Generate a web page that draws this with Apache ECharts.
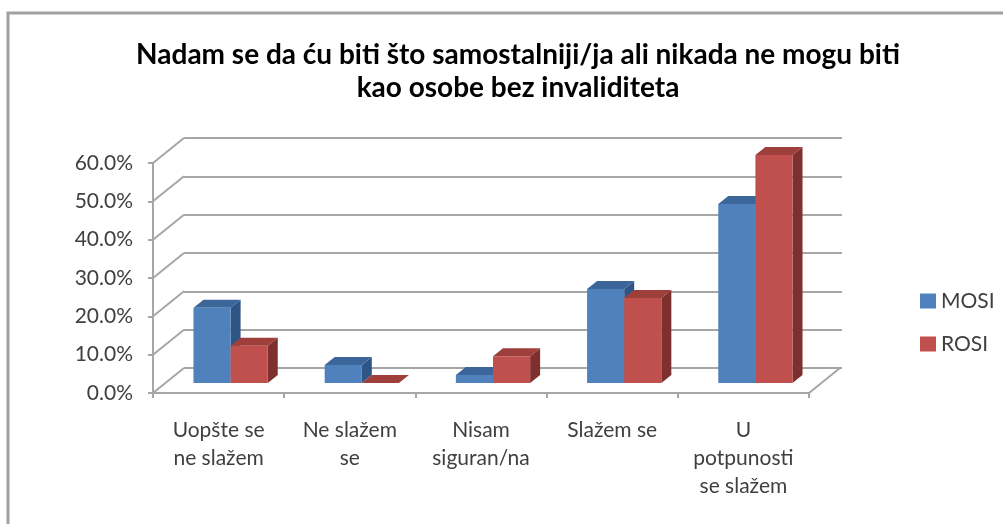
<!DOCTYPE html>
<html>
<head>
<meta charset="utf-8">
<script src="https://cdn.jsdelivr.net/npm/echarts@6/dist/echarts.min.js"></script>
<style>
  html, body { margin: 0; padding: 0; background: #fff; }
  #chart { width: 1003px; height: 524px; }
</style>
</head>
<body>
<div id="chart"></div>
<script>
// podaci
const categories = ['Uopšte se\nne slažem', 'Ne slažem\nse', 'Nisam\nsiguran/na', 'Slažem se', 'U\npotpunosti\nse slažem']
const mosi = [19.6, 4.7, 2.1, 24.5, 46.7]
const rosi = [9.7, 0, 7.0, 22.2, 59.5]
const yTicks = [0, 10, 20, 30, 40, 50, 60]

const FONT = 'Lato, "Liberation Sans", sans-serif'
const GRID_COLOR = '#a6a6a6'
// pomak zadnjeg zida i dubina stupaca
const WALL = [31, -25]
const PLANE = [12, -10]
const DEPTH = [10, -8]

const myCharts = echarts.init(document.getElementById('chart'))

function barItem(side, front, top, shade) {
  return function (params, api) {
    const idx = api.value(0)
    const base = api.coord([idx, 0])
    const peak = api.coord([idx, api.value(1)])
    const bw = api.size([1, 0])[0] * 0.283
    const x0 = (side === 0 ? base[0] - bw : base[0]) + PLANE[0]
    const yb = base[1] + PLANE[1]
    const yt = peak[1] + PLANE[1]
    const dx = DEPTH[0], dy = DEPTH[1]
    return {
      type: 'group',
      children: [
        { type: 'polygon', shape: { points: [[x0 + bw, yt], [x0 + bw + dx, yt + dy], [x0 + bw + dx, yb + dy], [x0 + bw, yb]] }, style: { fill: shade } },
        { type: 'polygon', shape: { points: [[x0, yt], [x0 + dx, yt + dy], [x0 + bw + dx, yt + dy], [x0 + bw, yt]] }, style: { fill: top } },
        { type: 'rect', shape: { x: x0, y: yt, width: bw, height: yb - yt }, style: { fill: front } }
      ]
    }
  }
}

myCharts.setOption({
  backgroundColor: '#fff',
  animation: false,
  title: {
    text: 'Nadam se da ću biti što samostalniji/ja ali nikada ne mogu biti\nkao osobe bez invaliditeta',
    left: 513,
    top: 33,
    textAlign: 'center',
    textStyle: { fontFamily: FONT, fontSize: 28, fontWeight: 'bold', color: '#000', lineHeight: 33 }
  },
  legend: {
    orient: 'vertical',
    left: 915,
    top: 285,
    itemWidth: 16,
    itemHeight: 15,
    itemGap: 21,
    icon: 'rect',
    data: ['MOSI', 'ROSI'],
    textStyle: { fontFamily: FONT, fontSize: 21, color: '#404040', lineHeight: 22, padding: [0, 0, 0, 0] }
  },
  graphic: [
    { type: 'polyline', shape: { points: [[8, 530], [8, 13], [1010, 13]] }, style: { stroke: '#a0a0a0', lineWidth: 3, fill: null } }
  ],
  grid: [
    { left: 153, top: 163, width: 656, height: 230 },
    { left: 184, top: 138, width: 658, height: 230 }
  ],
  xAxis: [
    {
      gridIndex: 0,
      type: 'category',
      data: categories,
      axisLine: { show: true, lineStyle: { color: GRID_COLOR, width: 2 } },
      axisTick: { show: true, interval: 0, length: 5, lineStyle: { color: GRID_COLOR, width: 2 } },
      axisLabel: { interval: 0, margin: 23, fontFamily: FONT, fontSize: 21, color: '#404040', lineHeight: 28 },
      splitLine: { show: false }
    },
    {
      gridIndex: 1,
      type: 'category',
      data: categories,
      show: false
    }
  ],
  yAxis: [
    {
      gridIndex: 0,
      type: 'value',
      min: 0,
      max: 60,
      interval: 10,
      axisLine: { show: true, lineStyle: { color: GRID_COLOR, width: 2 } },
      axisTick: { show: true, length: 5, lineStyle: { color: GRID_COLOR, width: 2 } },
      axisLabel: { margin: 20, fontFamily: FONT, fontSize: 21, color: '#404040', formatter: v => v.toFixed(1) + '%' },
      splitLine: { show: false }
    },
    {
      gridIndex: 1,
      type: 'value',
      min: 0,
      max: 60,
      interval: 10,
      axisLine: { show: false },
      axisTick: { show: false },
      axisLabel: { show: false },
      splitLine: { show: true, lineStyle: { color: GRID_COLOR, width: 2 } }
    }
  ],
  series: [
    {
      // bočni zid i pod
      type: 'custom',
      xAxisIndex: 0,
      yAxisIndex: 0,
      silent: true,
      data: yTicks.map(v => [0, v]),
      renderItem: function (params, api) {
        const cs = params.coordSys
        const y = api.coord([0, api.value(1)])[1]
        const lines = [
          { type: 'line', shape: { x1: cs.x, y1: y, x2: cs.x + WALL[0], y2: y + WALL[1] }, style: { stroke: GRID_COLOR, lineWidth: 2 } }
        ]
        if (params.dataIndex === 0) {
          const xr = cs.x + cs.width
          const yr = cs.y + cs.height
          lines.push({ type: 'line', shape: { x1: xr, y1: yr, x2: xr + WALL[0], y2: yr + WALL[1] }, style: { stroke: GRID_COLOR, lineWidth: 2 } })
        }
        return { type: 'group', children: lines }
      },
      z: 1
    },
    {
      name: 'MOSI',
      type: 'custom',
      xAxisIndex: 0,
      yAxisIndex: 0,
      itemStyle: { color: '#4f81bd' },
      data: mosi.map((v, i) => [i, v]),
      renderItem: barItem(0, '#4f81bd', '#3c659a', '#2f5586'),
      z: 3
    },
    {
      name: 'ROSI',
      type: 'custom',
      xAxisIndex: 0,
      yAxisIndex: 0,
      itemStyle: { color: '#c0504d' },
      data: rosi.map((v, i) => [i, v]),
      renderItem: barItem(1, '#c0504d', '#9e3f3c', '#7e302e'),
      z: 4
    }
  ]
})
</script>
</body>
</html>
